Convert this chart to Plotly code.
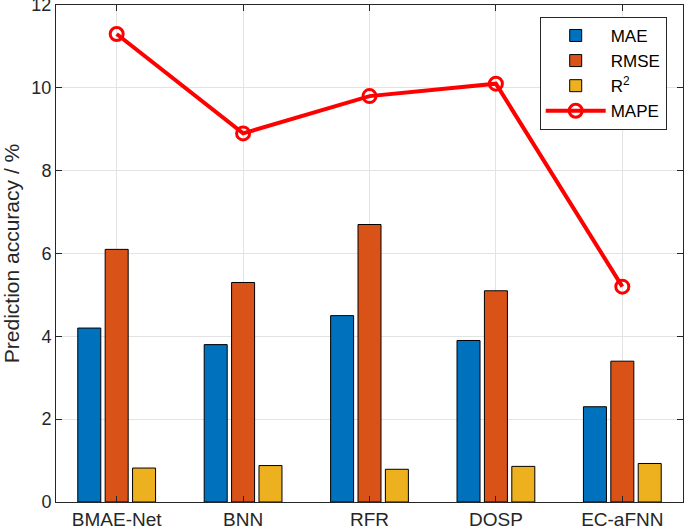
import plotly.graph_objects as go

categories = ["BMAE-Net", "BNN", "RFR", "DOSP", "EC-aFNN"]
mae = [4.2, 3.8, 4.5, 3.9, 2.3]
rmse = [6.1, 5.3, 6.7, 5.1, 3.4]
r2 = [0.82, 0.88, 0.79, 0.86, 0.93]
mape = [11.3, 8.9, 9.8, 10.1, 5.2]
yticks = [0, 2, 4, 6, 8, 10, 12]

xpos = list(range(1, len(categories) + 1))

fig = go.Figure()
fig.add_trace(go.Bar(x=xpos, y=mae, name="MAE", marker=dict(color="#0072BD", line=dict(color="#000000", width=1))))
fig.add_trace(go.Bar(x=xpos, y=rmse, name="RMSE", marker=dict(color="#D95319", line=dict(color="#000000", width=1))))
fig.add_trace(go.Bar(x=xpos, y=r2, name="R<sup>2</sup>", marker=dict(color="#EDB120", line=dict(color="#000000", width=1))))
fig.add_trace(go.Scatter(x=xpos, y=mape, name="MAPE", mode="lines+markers",
                         line=dict(color="#FF0000", width=4),
                         marker=dict(symbol="circle-open", size=13, color="#FF0000",
                                     line=dict(width=3, color="#FF0000"))))

axis_common = dict(showline=True, linecolor="#262626", linewidth=1, mirror="ticks",
                   ticks="inside", ticklen=6, tickcolor="#262626",
                   showgrid=True, gridcolor="#E3E3E3", gridwidth=1, zeroline=False,
                   ticklabeloverflow="allow", automargin=False,
                   tickfont=dict(family="Liberation Sans, Arial", size=18, color="#262626"))

fig.update_layout(
    width=685, height=529,
    margin=dict(l=56, r=2, t=5, b=27),
    paper_bgcolor="white", plot_bgcolor="white",
    barmode="group", bargap=0.35, bargroupgap=0.16,
    font=dict(family="Liberation Sans, Arial", color="#262626"),
    xaxis=dict(range=[0.52, 5.48], tickmode="array", tickvals=xpos, ticktext=categories, **axis_common),
    yaxis=dict(range=[0, 12], tickmode="array", tickvals=yticks,
               title=dict(text="Prediction accuracy / %", font=dict(size=21, color="#262626"), standoff=6),
               **axis_common),
    legend=dict(x=0.974, y=0.976, xanchor="right", yanchor="top",
                bordercolor="#262626", borderwidth=1, bgcolor="white",
                font=dict(family="Liberation Sans, Arial", size=17, color="#000000"),
                tracegroupgap=0, itemwidth=60),
    showlegend=True,
)
fig.update_xaxes(tickfont=dict(size=19))

fig.write_html("out.html", config={"displayModeBar": False},
               post_script="document.body.style.margin='0';")
